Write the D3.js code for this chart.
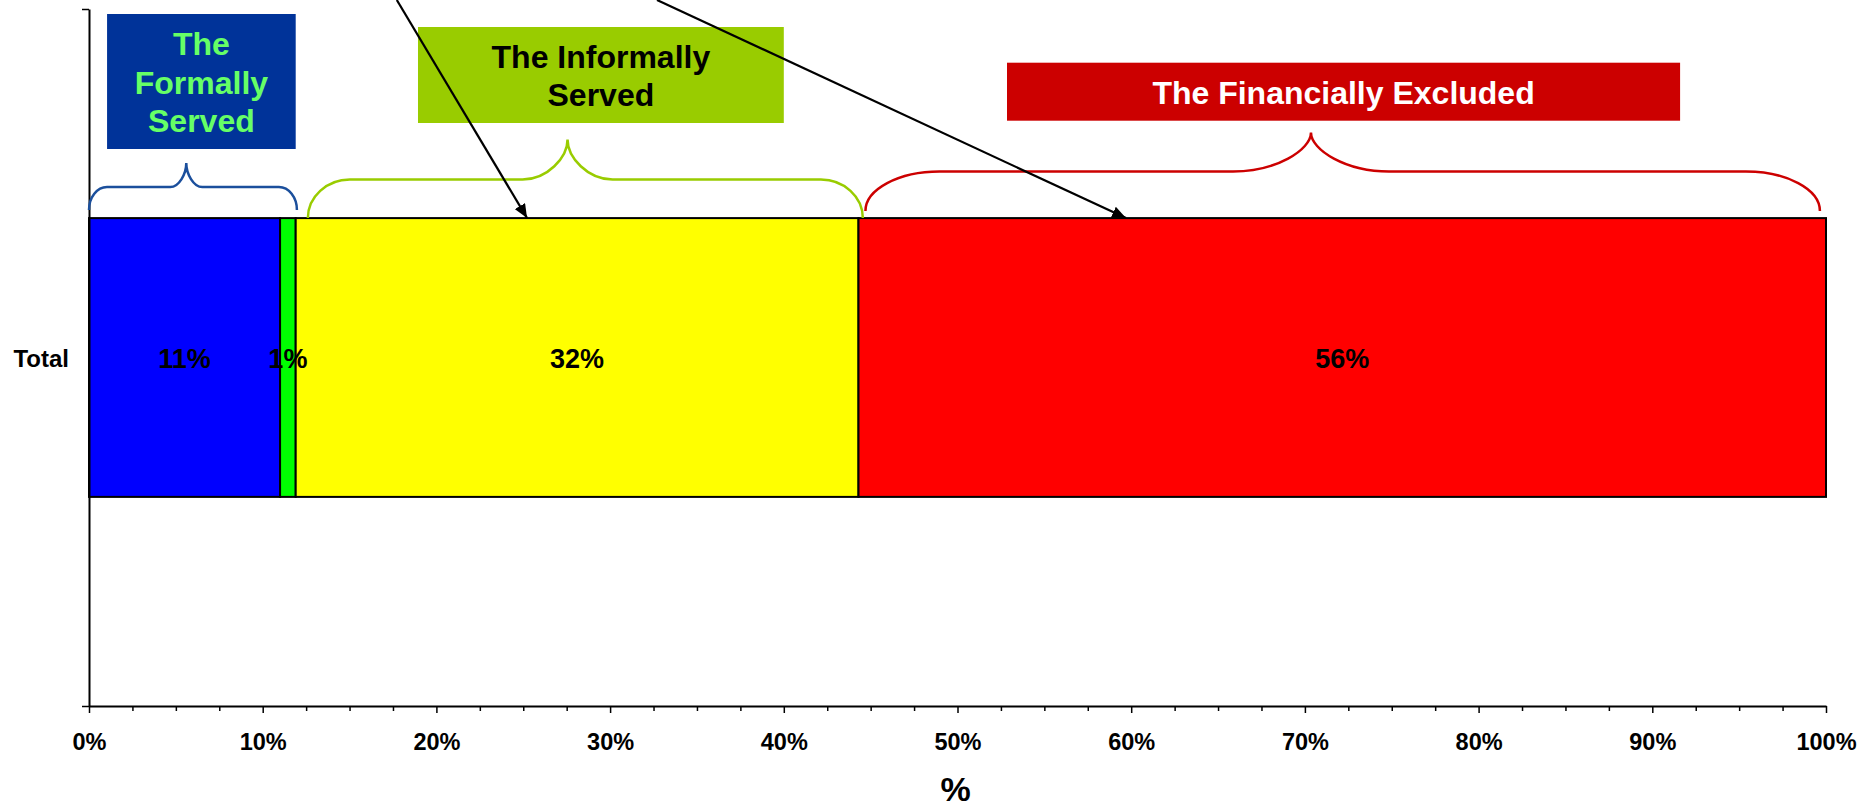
<!DOCTYPE html>
<html>
<head>
<meta charset="utf-8">
<script src="https://cdn.jsdelivr.net/npm/d3@7"></script>
<style>
  body { margin: 0; background: #fff; }
  svg { display: block; font-family: "Liberation Sans", Arial, sans-serif; font-weight: bold; }
</style>
</head>
<body>
<svg id="chart"></svg>
<script>
// Data (percent of total)
const categories = ["Total"];
const seriesNames = ["Formal banked", "Formal other", "Informally served", "Financially excluded"];
const seriesValues = [11.0, 0.9, 32.4, 55.7];
const tickValues = [0, 10, 20, 30, 40, 50, 60, 70, 80, 90, 100];
const tickLabels = ["0%", "10%", "20%", "30%", "40%", "50%", "60%", "70%", "80%", "90%", "100%"];
const groupNames = [["The", "Formally", "Served"], ["The Informally", "Served"], ["The Financially Excluded"]];

// Styles
const seriesColors = ["#0000ff", "#00ff00", "#ffff00", "#ff0000"];

const width = 1868, height = 810;
const margin = { left: 89, right: 42, top: 9, bottom: 104 };

const svg = d3.select("#chart")
    .attr("width", width)
    .attr("height", height);

// Scales
const x = d3.scaleLinear()
    .domain([0, 100])
    .range([margin.left, width - margin.right]);

const y = d3.scaleBand()
    .domain(categories)
    .range([margin.top, height - margin.bottom]);

const barH = y.bandwidth() * 0.4;

// Stack the segments
const row = { cat: categories[0] };
seriesNames.forEach((s, i) => row[s] = seriesValues[i]);
const stacked = d3.stack().keys(seriesNames)([row]);

// Bars
svg.append("g").selectAll("rect")
    .data(stacked)
    .enter()
    .append("rect")
    .attr("x", d => x(d[0][0]))
    .attr("width", d => x(d[0][1]) - x(d[0][0]))
    .attr("y", d => y(d[0].data.cat) + y.bandwidth() / 2 - barH / 2)
    .attr("height", barH)
    .attr("fill", (d, i) => seriesColors[i])
    .attr("stroke", "#000")
    .attr("stroke-width", 2);

// Data labels
svg.append("g").selectAll("text")
    .data(stacked)
    .enter()
    .append("text")
    .attr("x", d => (x(d[0][0]) + x(d[0][1])) / 2)
    .attr("y", d => y(d[0].data.cat) + y.bandwidth() / 2 + 10)
    .attr("text-anchor", "middle")
    .style("font-size", "27px")
    .text(d => Math.round(d[0][1] - d[0][0]) + "%");

// X axis: major and minor ticks
const xAxis = svg.append("g")
    .attr("transform", `translate(0,${height - margin.bottom})`)
    .call(d3.axisBottom(x)
        .tickValues(d3.range(0, 100.1, 2.5).filter(v => v % 10 !== 0))
        .tickSize(5)
        .tickSizeOuter(0)
        .tickFormat(""));
xAxis.select(".domain").remove();
xAxis.selectAll(".tick line").attr("stroke", "#000").attr("stroke-width", 1.5);

const xMajor = svg.append("g")
    .attr("transform", `translate(0,${height - margin.bottom})`)
    .call(d3.axisBottom(x)
        .tickValues(tickValues)
        .tickSize(7)
        .tickSizeOuter(0)
        .tickPadding(20)
        .tickFormat((d, i) => tickLabels[i]));
xMajor.select(".domain").attr("stroke", "#000").attr("stroke-width", 2);
xMajor.selectAll(".tick line").attr("stroke", "#000").attr("stroke-width", 1.5);
xMajor.selectAll("text")
    .attr("fill", "#000")
    .style("font-size", "23.5px")
    .style("font-family", "'Liberation Sans', Arial, sans-serif")
    .style("font-weight", "bold");

// Y axis: line with ticks at the category bounds
const yEdge = d3.scaleLinear().domain([0, 1]).range([height - margin.bottom, margin.top]);
const yAxis = svg.append("g")
    .attr("transform", `translate(${margin.left},0)`)
    .call(d3.axisLeft(yEdge).tickValues([0, 1]).tickSize(7).tickSizeOuter(0).tickFormat(""));
yAxis.select(".domain").attr("stroke", "#000").attr("stroke-width", 2);
yAxis.selectAll(".tick line").attr("stroke", "#000").attr("stroke-width", 1.5);

// Category label
svg.append("g").selectAll("text")
    .data(categories)
    .enter()
    .append("text")
    .attr("x", margin.left - 20)
    .attr("y", d => y(d) + y.bandwidth() / 2 + 9)
    .attr("text-anchor", "end")
    .style("font-size", "24px")
    .text(d => d);

// Axis title
svg.append("text")
    .attr("x", (x(0) + x(100)) / 2 - 2)
    .attr("y", height - 9)
    .attr("text-anchor", "middle")
    .style("font-size", "34px")
    .text("%");

// Group annotations: boxes and braces (x positions in percent)
const groups = [
    { box: [1.04, 11.9], by: [14, 149], fill: "#003399", color: "#66ff66", base: 55, lh: 38.5,
      brace: { x0: 0, x1: 11.97, tip: 5.6, yEnd: 210, yMid: 187, yTip: 163, rEnd: 18, rTip: 16 },
      stroke: "#1b4f9c" },
    { box: [18.94, 40.0], by: [27, 123], fill: "#99cc00", color: "#000", base: 68, lh: 38,
      brace: { x0: 12.6, x1: 44.55, tip: 27.55, yEnd: 218, yMid: 179.5, yTip: 139.5, rEnd: 42, rTip: 45 },
      stroke: "#99cc00" },
    { box: [52.85, 91.6], by: [62.7, 120.7], fill: "#cc0000", color: "#fff", base: 104, lh: 38,
      brace: { x0: 44.7, x1: 99.65, tip: 70.35, yEnd: 211, yMid: 171.5, yTip: 132.5, rEnd: 74, rTip: 78 },
      stroke: "#cc0000" }
];

function bracePath(b) {
    const x0 = x(b.x0), x1 = x(b.x1), xt = x(b.tip);
    const k = 0.55;
    const he = b.yEnd - b.yMid, ht = b.yMid - b.yTip;
    const p = d3.path();
    p.moveTo(x0, b.yEnd);
    p.bezierCurveTo(x0, b.yEnd - k * he, x0 + b.rEnd * (1 - k), b.yMid, x0 + b.rEnd, b.yMid);
    p.lineTo(xt - b.rTip, b.yMid);
    p.bezierCurveTo(xt - b.rTip * (1 - k), b.yMid, xt, b.yMid - k * ht, xt, b.yTip);
    p.bezierCurveTo(xt, b.yMid - k * ht, xt + b.rTip * (1 - k), b.yMid, xt + b.rTip, b.yMid);
    p.lineTo(x1 - b.rEnd, b.yMid);
    p.bezierCurveTo(x1 - b.rEnd * (1 - k), b.yMid, x1, b.yEnd - k * he, x1, b.yEnd);
    return p.toString();
}

const ann = svg.append("g").selectAll("g")
    .data(groups)
    .enter()
    .append("g");

ann.append("rect")
    .attr("x", d => x(d.box[0]))
    .attr("width", d => x(d.box[1]) - x(d.box[0]))
    .attr("y", d => d.by[0])
    .attr("height", d => d.by[1] - d.by[0])
    .attr("fill", d => d.fill);

ann.append("text")
    .attr("text-anchor", "middle")
    .attr("fill", d => d.color)
    .style("font-size", "32px")
    .each(function(d, i) {
        const t = d3.select(this);
        groupNames[i].forEach((line, j) => {
            t.append("tspan")
                .attr("x", (x(d.box[0]) + x(d.box[1])) / 2)
                .attr("y", d.base + j * d.lh)
                .text(line);
        });
    });

ann.append("path")
    .attr("d", d => bracePath(d.brace))
    .attr("fill", "none")
    .attr("stroke", d => d.stroke)
    .attr("stroke-width", 2.5);

// Arrows coming in from above the chart
const arrows = [
    { from: 17.72, to: 25.22 },
    { from: 32.7, to: 59.7 }
];

svg.append("defs").append("marker")
    .attr("id", "head")
    .attr("viewBox", "0 0 14 12")
    .attr("refX", 14)
    .attr("refY", 6)
    .attr("markerWidth", 14)
    .attr("markerHeight", 12)
    .attr("markerUnits", "userSpaceOnUse")
    .attr("orient", "auto")
    .append("path")
    .attr("d", "M0,0 L14,6 L0,12 Z")
    .attr("fill", "#000");

const barTop = y(categories[0]) + y.bandwidth() / 2 - barH / 2;
svg.append("g").selectAll("line")
    .data(arrows)
    .enter()
    .append("line")
    .attr("x1", d => x(d.from))
    .attr("y1", 0)
    .attr("x2", d => x(d.to))
    .attr("y2", barTop)
    .attr("stroke", "#000")
    .attr("stroke-width", 2.2)
    .attr("marker-end", "url(#head)");
</script>
</body>
</html>
